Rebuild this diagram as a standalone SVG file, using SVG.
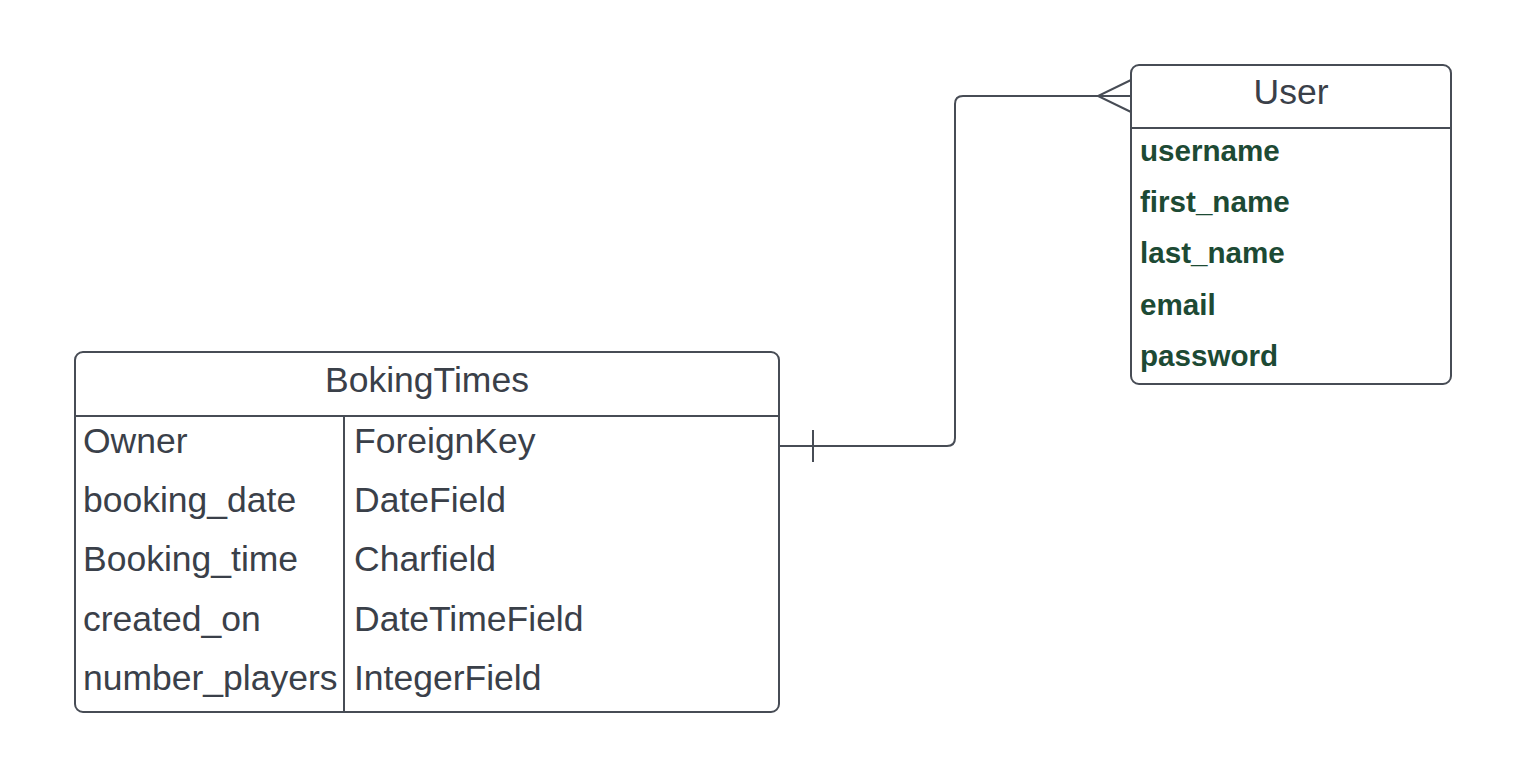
<svg xmlns="http://www.w3.org/2000/svg" width="1522" height="784" viewBox="0 0 1522 784">
<style>
.box{fill:#ffffff;stroke:#474c55;stroke-width:2}
.ln{stroke:#474c55;stroke-width:2;fill:none}
.t{font-family:"Liberation Sans",Arial,sans-serif;font-size:35.5px;fill:#3a4049}
.h{font-family:"Liberation Sans",Arial,sans-serif;font-size:35.5px;fill:#3a4049;text-anchor:middle}
.g{font-family:"Liberation Sans",Arial,sans-serif;font-size:29.6px;font-weight:bold;fill:#1d4a34}
</style>
<rect width="1522" height="784" fill="#ffffff"/>
<g id="connectors">
<path class="ln" d="M779 446 H947 Q955 446 955 438 V104 Q955 96 963 96 H1131"/>
<path class="ln" d="M813 430 V462"/>
<path class="ln" d="M1131 80 L1098 96 L1131 112"/>
</g>
<g id="BokingTimes">
<rect class="box" x="75" y="352" width="704" height="360" rx="8"/>
<path class="ln" d="M75 416 H779 M344 416 V712"/>
<text class="h" x="427" y="392">BokingTimes</text>
<text class="t" x="83" y="453">Owner</text>
<text class="t" x="354" y="453">ForeignKey</text>
<text class="t" x="83" y="512">booking_date</text>
<text class="t" x="354" y="512">DateField</text>
<text class="t" x="83" y="571">Booking_time</text>
<text class="t" x="354" y="571">Charfield</text>
<text class="t" x="83" y="631">created_on</text>
<text class="t" x="354" y="631">DateTimeField</text>
<text class="t" x="83" y="690">number_players</text>
<text class="t" x="354" y="690">IntegerField</text>
</g>
<g id="User">
<rect class="box" x="1131" y="65" width="320" height="319" rx="8"/>
<path class="ln" d="M1131 128 H1451"/>
<text class="h" x="1291" y="104">User</text>
<text class="g" x="1140" y="161">username</text>
<text class="g" x="1140" y="212">first_name</text>
<text class="g" x="1140" y="263">last_name</text>
<text class="g" x="1140" y="315">email</text>
<text class="g" x="1140" y="366">password</text>
</g>
</svg>
